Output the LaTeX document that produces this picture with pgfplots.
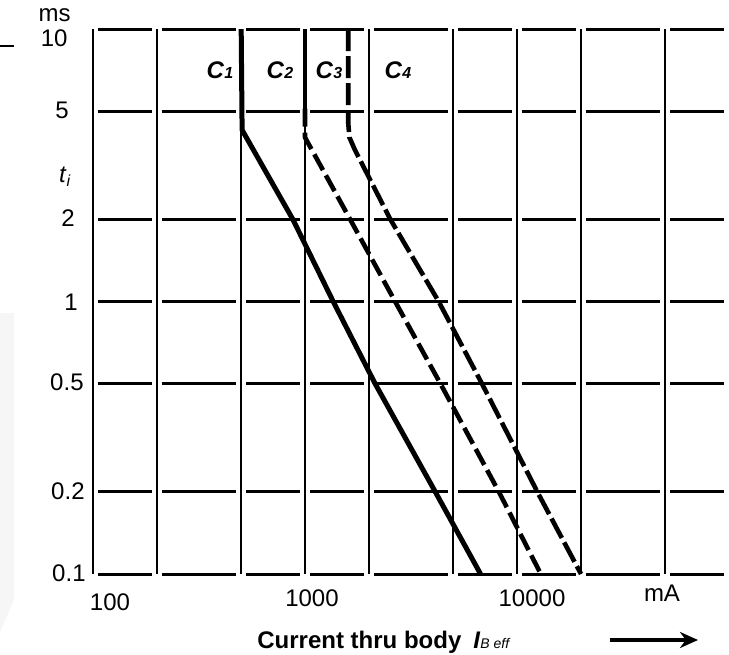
\documentclass[border=0pt]{standalone}
\usepackage{pgfplots}
\pgfplotsset{compat=1.18}
\usepackage{fontspec}
\setmainfont{Liberation Sans}
\usetikzlibrary{arrows.meta}

\begin{document}
\begin{tikzpicture}
\useasboundingbox (0,0) rectangle (364.5pt,-327pt);
\begin{axis}[
    at={(46.5pt,-287pt)}, anchor=south west,
    scale only axis, width=318pt, height=272.5pt,
    xmode=log, ymode=log,
    xmin=100, xmax=100000, ymin=0.1, ymax=10,
    xtick={100,200,500,1000,2000,5000,10000,20000,50000},
    ytick={0.1,0.2,0.5,1,2,5,10},
    xticklabels={}, yticklabels={},
    major tick length=0pt,
    axis line style={draw=none},
    grid=major,
    major x grid style={black, line width=1pt},
    major y grid style={black, line width=1.5pt,
      dash pattern=on 26.91pt off 5pt on 37.18pt off 5pt on 26.91pt off 5pt,
      dash phase=103.5pt},
  ]
  % C1
  \addplot[black, line width=2.5pt, line join=round] coordinates {(500,10) (505,4.26) (877,2) (1358,1) (2140,0.5) (4120,0.2) (6730,0.1)};
  % C2
  \addplot[black, line width=2.3pt] coordinates {(1000,10) (1000,5.1)};
  \addplot[black, line width=2.3pt, line join=round, dash pattern=on 9pt off 3pt] coordinates {(1000,5.1) (1000,4.0) (1634,2) (2661,1) (4350,0.5) (8220,0.2) (12950,0.1)};
  % C3
  \addplot[black, line width=2.3pt, line join=round, dash pattern=on 11pt off 2.5pt] coordinates {(1600,10) (1600,4.5) (1620,4.0) (1720,3.6) (2529,2) (4270,1) (6830,0.5) (12480,0.2) (20040,0.1)};
\end{axis}

\begin{scope}[x=0.5pt, y=-0.5pt, inner sep=0pt, font=\fontsize{12}{14}\selectfont]
  \fill[gray!7] (0,313) -- (14,313) -- (14,600) -- (0,632) -- cycle;
  \draw[line width=1pt] (0,46) -- (14,46);
  % y labels
  \node[anchor=east] at (71,15) {ms};
  \node[anchor=east] at (68,38) {10};
  \node[anchor=east] at (69,110) {5};
  \node[anchor=east] at (72,177) {\textit{t}\textsubscript{\textit{i}}};
  \node[anchor=east] at (75,218) {2};
  \node[anchor=east] at (78,302) {1};
  \node[anchor=east] at (84,382) {0.5};
  \node[anchor=east] at (85,491) {0.2};
  \node[anchor=east] at (86,573) {0.1};
  % x labels
  \node at (110,602) {100};
  \node at (312,598) {1000};
  \node at (532,598) {10000};
  \node at (662,593) {mA};
  % zone labels
  \node at (220,70) {\textbf{\textit{C}}{\fontsize{8}{9}\selectfont\textbf{\textit{1}}}};
  \node at (280,70) {\textbf{\textit{C}}{\fontsize{8}{9}\selectfont\textbf{\textit{2}}}};
  \node at (329,70) {\textbf{\textit{C}}{\fontsize{8}{9}\selectfont\textbf{\textit{3}}}};
  \node at (398,70) {\textbf{\textit{C}}{\fontsize{8}{9}\selectfont\textbf{\textit{4}}}};
  % axis title
  \node[anchor=base west] at (257,648) {\textbf{Current thru body}};
  \node[anchor=base west] at (473,648) {\textbf{\textit{I}}{\fontsize{7}{8}\selectfont\textit{B eff}}};
  \draw[line width=2pt, -{Stealth[length=9pt, width=8pt]}] (610,640) -- (698,640);
\end{scope}
\end{tikzpicture}
\end{document}
